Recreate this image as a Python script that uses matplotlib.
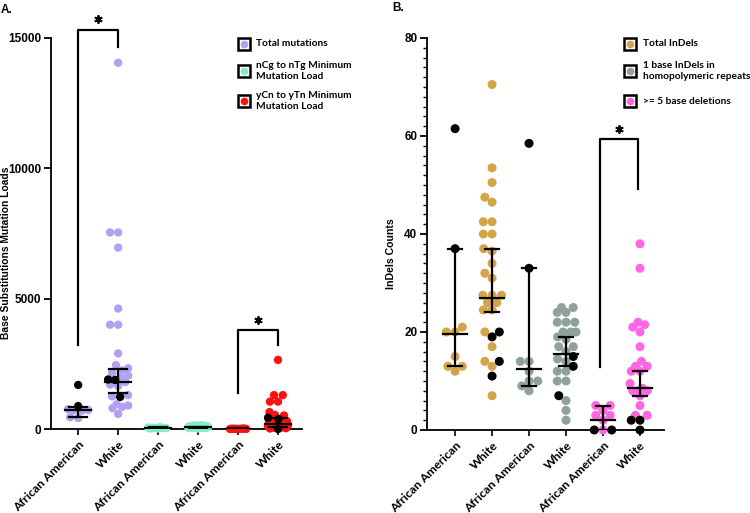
import numpy as np
import matplotlib
matplotlib.use("Agg")
import matplotlib.pyplot as plt
from matplotlib.patches import Rectangle
from matplotlib.lines import Line2D
from matplotlib.ticker import MultipleLocator

# ---------------- data ----------------
groups = ["African American", "White", "African American", "White", "African American", "White"]

# Panel A: base substitutions
a_aa_total = [760, 730, 720, 700, 450, 420]
a_aa_total_blk = [1690, 880]
a_wh_total = [14050, 7540, 7540, 6960, 4620, 4000, 4000, 2900, 2450, 2330, 2250, 2150,
              2050, 1950, 1800, 1700, 1650, 1300, 1250, 950, 900, 850, 800, 580]
a_wh_total_blk = [1900, 1880, 1230]
a_aa_ncg = [20, 30, 40, 40, 50, 60, 70, 30, 20]
a_aa_ncg_blk = []
a_wh_ncg = [40, 50, 60, 70, 80, 90, 100, 110, 120, 60, 70, 80, 90, 50, 40, 100, 130, 140,
            30, 60, 80, 70, 90, 110, 50, 150, 20]
a_wh_ncg_blk = []
a_aa_ycn = [0, 5, 10, 10, 15, 20, 5, 0, 10]
a_aa_ycn_blk = []
a_wh_ycn = [2650, 1300, 1300, 1050, 1050, 650, 540, 520, 350, 300, 300, 250, 250, 200, 200,
            180, 150, 120, 100, 80, 60, 50, 30, 20]
a_wh_ycn_blk = [430, 380, 0]

a_center = [730, 1820, 30, 60, 10, 205]
a_low = [470, 1380, 10, 30, 0, 90]
a_high = [850, 2300, 60, 90, 20, 420]

# Panel B: InDels
b_aa_tot = [21, 20, 20, 15, 13, 13, 12]
b_aa_tot_blk = [61.5, 37]
b_wh_tot = [70.5, 53.5, 50.5, 47.5, 46.5, 42.5, 42.5, 40, 40, 37, 36.5, 34, 32, 31, 27.5,
            27.5, 27.5, 26, 26, 24.5, 24.5, 20, 17, 14, 13, 7]
b_wh_tot_blk = [20, 19, 14, 11]
b_aa_hp = [14, 14, 12, 10, 10, 9, 8]
b_aa_hp_blk = [58.5, 33]
b_wh_hp = [25, 25, 24, 24, 22, 22, 22, 20, 20, 20, 19, 18.5, 17, 17, 16, 14.5, 14, 12, 12,
           10, 10, 6, 4, 2]
b_wh_hp_blk = [15, 13, 7]
b_aa_del = [5, 5, 4, 3, 3, 2, 0]
b_aa_del_blk = [0, 0]
b_wh_del = [38, 33, 22, 21.5, 21, 20, 17, 14, 13, 13, 12, 12, 9.5, 8.5, 8, 8, 8, 7, 5, 3, 3]
b_wh_del_blk = [2, 2, 0]

b_center = [19.5, 27, 12.5, 15.5, 2, 8.5]
b_low = [13, 24, 9, 13, 0, 7]
b_high = [37, 37, 33, 19, 5, 12]

col_purple = "#B3A0F2"
col_teal = "#7EEFC6"
col_red = "#FF0F0F"
col_gold = "#D4A548"
col_gray = "#8FA09D"
col_pink = "#FF66E3"

a_series = [(a_aa_total, a_aa_total_blk, col_purple), (a_wh_total, a_wh_total_blk, col_purple),
            (a_aa_ncg, a_aa_ncg_blk, col_teal), (a_wh_ncg, a_wh_ncg_blk, col_teal),
            (a_aa_ycn, a_aa_ycn_blk, col_red), (a_wh_ycn, a_wh_ycn_blk, col_red)]
b_series = [(b_aa_tot, b_aa_tot_blk, col_gold), (b_wh_tot, b_wh_tot_blk, col_gold),
            (b_aa_hp, b_aa_hp_blk, col_gray), (b_wh_hp, b_wh_hp_blk, col_gray),
            (b_aa_del, b_aa_del_blk, col_pink), (b_wh_del, b_wh_del_blk, col_pink)]

a_legend = ["Total mutations", "nCg to nTg Minimum\nMutation Load", "yCn to yTn Minimum\nMutation Load"]
b_legend = ["Total InDels", "1 base InDels in\nhomopolymeric repeats", ">= 5 base deletions"]

# ---------------- figure ----------------
DPI = 100
fig = plt.figure(figsize=(7.5, 5.13), dpi=DPI)
W, H = 750, 513

def px_axes(l, t, r, b):
    return fig.add_axes([l / W, 1 - b / H, (r - l) / W, (b - t) / H])

axA = px_axes(51, 38, 302, 429)
axB = px_axes(427, 38, 664, 430)

def swarm(ax, xpos, vals, d, maxhalf):
    vals = np.asarray(vals, float)
    if len(vals) == 0:
        return np.array([])
    pts = ax.transData.transform(np.column_stack([np.full(len(vals), xpos), vals]))
    ypx = pts[:, 1]
    order = np.argsort(ypx, kind="stable")
    placed = []
    offs = np.zeros(len(vals))
    grid = np.arange(-maxhalf, maxhalf + 0.01, 0.5)
    for i in order:
        y = ypx[i]
        ints = []
        for (px, py) in placed:
            dy = abs(py - y)
            if dy < d:
                dx = np.sqrt(d * d - dy * dy)
                ints.append((px - dx, px + dx))
        cands = [0.0] + [a for a, b in ints] + [b for a, b in ints]
        cands = sorted(cands, key=lambda c: (round(abs(c), 6), c))
        chosen = None
        for c in cands:
            if all(not (a + 1e-6 < c < b - 1e-6) for a, b in ints):
                chosen = c
                break
        if chosen is None or abs(chosen) > maxhalf:
            best, bestv = 0.0, -1
            for g in grid:
                if placed:
                    m = min(np.hypot(g - px, y - py) for px, py in placed)
                else:
                    m = 1e9
                v = m - 0.01 * abs(g)
                if v > bestv:
                    bestv, best = v, g
            chosen = best
        placed.append((chosen, y))
        offs[i] = chosen
    unit = ax.transData.transform((1, 0))[0] - ax.transData.transform((0, 0))[0]
    return offs / unit

def setup(ax, ylim, yticks, xlim):
    ax.set_xlim(*xlim)
    ax.set_ylim(*ylim)
    ax.set_yticks(yticks)
    ax.set_xticks(range(len(groups)))
    ax.set_xticklabels(groups, rotation=45, ha="right", rotation_mode="anchor",
                       fontfamily="Lato", fontweight="bold", fontsize=8.8)
    for s in ["top", "right"]:
        ax.spines[s].set_visible(False)
    for s in ["left", "bottom"]:
        ax.spines[s].set_linewidth(1.3)
    ax.tick_params(axis="y", length=5, width=1.3, labelsize=8.5, pad=2)
    ax.tick_params(axis="x", length=4, width=1.2, pad=3)
    for lab in ax.get_yticklabels():
        lab.set_fontfamily("Liberation Sans")
        lab.set_fontweight("bold")

def draw(ax, series, center, low, high, ms, maxhalf, cw, capw):
    d = np.sqrt(ms) * DPI / 72.0
    for i, (vals, blk, col) in enumerate(series):
        allv = list(vals) + list(blk)
        colors = [col] * len(vals) + ["black"] * len(blk)
        offs = swarm(ax, i, allv, d * 0.97, maxhalf)
        ax.scatter(i + offs, allv, s=ms, c=colors, linewidths=0, zorder=3, clip_on=False)
    for i in range(len(center)):
        ax.plot([i, i], [low[i], high[i]], color="black", lw=1.6, zorder=4, solid_capstyle="butt")
        ax.plot([i - cw, i + cw], [center[i]] * 2, color="black", lw=1.6, zorder=4)
        ax.plot([i - capw, i + capw], [low[i]] * 2, color="black", lw=1.6, zorder=4)
        ax.plot([i - capw, i + capw], [high[i]] * 2, color="black", lw=1.6, zorder=4)

def bracket(ax, x1, y1, x2, y2, ytop, ystar):
    ax.plot([x1, x1, x2, x2], [y1, ytop, ytop, y2], color="black", lw=1.6,
            clip_on=False, zorder=4)
    ax.plot([(x1 + x2) / 2], [ystar], linestyle="none", marker=(6, 2, 0), markersize=6,
            markeredgewidth=1.3, color="black", clip_on=False)

# Panel A
setup(axA, (0, 15000), [0, 5000, 10000, 15000], (-0.68, 5.6))
draw(axA, a_series, a_center, a_low, a_high, 36, 10, 0.32, 0.22)
bracket(axA, 0, 3230, 1, 14640, 15320, 15730)
bracket(axA, 4, 1400, 5, 3230, 3780, 4200)
axA.set_ylabel("Base Substitutions Mutation Loads", fontfamily="Liberation Sans",
               fontweight="bold", fontsize=7.4)
axA.yaxis.set_label_coords(-0.16, 0.45)

# Panel B
setup(axB, (0, 80), [0, 20, 40, 60, 80], (-0.76, 5.65))
axB.yaxis.set_minor_locator(MultipleLocator(2))
axB.tick_params(axis="y", which="minor", length=3, width=1.0)
draw(axB, b_series, b_center, b_low, b_high, 42, 10, 0.33, 0.19)
bracket(axB, 3.92, 12.8, 4.95, 49.1, 59.3, 61.4)
axB.set_ylabel("InDels Counts", fontfamily="Liberation Sans", fontweight="bold", fontsize=7.6)
axB.yaxis.set_label_coords(-0.13, 0.45)

# panel letters
fig.text(1 / W, 1 - 10 / H, "A.", fontfamily="Liberation Sans", fontweight="bold",
         fontsize=8.5, va="center", ha="left")
fig.text(392 / W, 1 - 8 / H, "B.", fontfamily="Liberation Sans", fontweight="bold",
         fontsize=8.5, va="center", ha="left")

# legends
def legend(x_sq, x_txt, ycenters, labels, colors):
    for yc, lab, col in zip(ycenters, labels, colors):
        sq = 12
        fig.patches.append(Rectangle(((x_sq - sq / 2) / W, 1 - (yc + sq / 2) / H), sq / W, sq / H,
                                     transform=fig.transFigure, fill=False, lw=1.8,
                                     edgecolor="black"))
        fig.lines.append(Line2D([x_sq / W], [1 - yc / H], transform=fig.transFigure,
                                marker="o", markersize=5.5, color=col, markeredgewidth=0,
                                linestyle="none"))
        fig.text(x_txt / W, 1 - yc / H, lab, fontfamily="Lato", fontweight="bold",
                 fontsize=7.3, va="center", ha="left", linespacing=1.15)

legend(243.5, 256, [44, 71, 101], a_legend, [col_purple, col_teal, col_red])
legend(630, 643, [44, 71, 101], b_legend, [col_gold, col_gray, col_pink])

fig.savefig("out.png", dpi=DPI)
